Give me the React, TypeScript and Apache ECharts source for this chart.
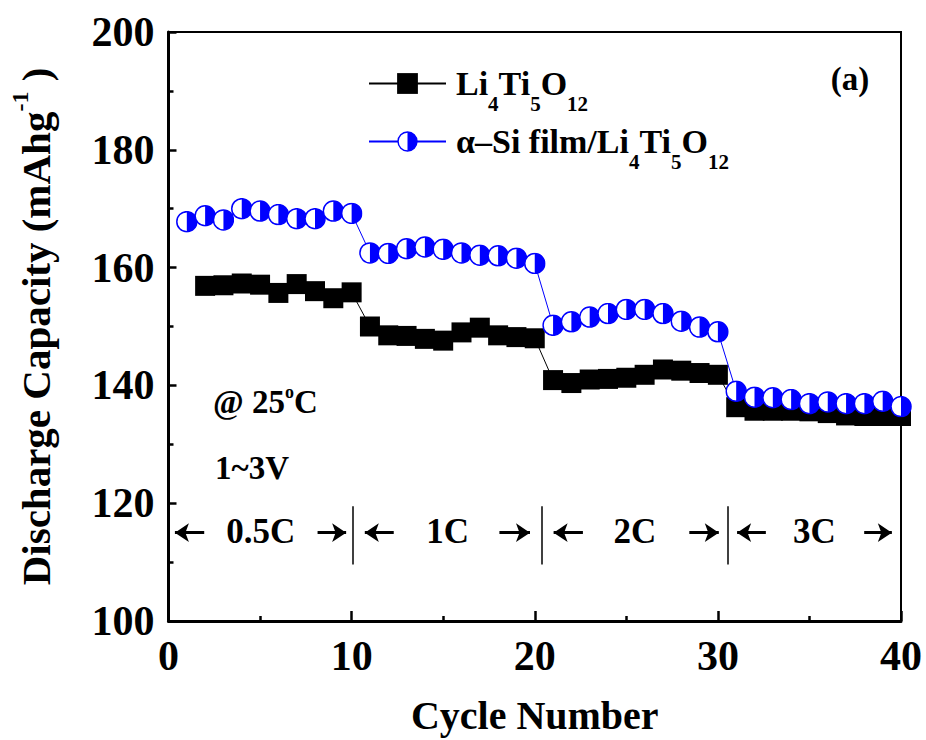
import React, { useEffect, useRef } from 'react';
import * as echarts from 'echarts';

// ---- data ----
const cyclesLTO = [2, 3, 4, 5, 6, 7, 8, 9, 10, 11, 12, 13, 14, 15, 16, 17, 18, 19, 20, 21, 22, 23, 24, 25, 26, 27, 28, 29, 30, 31, 32, 33, 34, 35, 36, 37, 38, 39, 40];
const capacityLTO = [156.9, 157.0, 157.3, 157.1, 155.7, 157.2, 156.0, 154.8, 155.8,
  150.0, 148.5, 148.4, 147.9, 147.6, 149.0, 149.8, 148.5, 148.2, 148.0,
  140.9, 140.4, 141.0, 141.1, 141.3, 141.8, 142.7, 142.5, 142.1, 141.8,
  136.3, 135.7, 135.7, 135.7, 135.6, 135.3, 134.9, 134.8, 134.8, 134.8];
const cyclesSi = [1, 2, 3, 4, 5, 6, 7, 8, 9, 10, 11, 12, 13, 14, 15, 16, 17, 18, 19, 20, 21, 22, 23, 24, 25, 26, 27, 28, 29, 30, 31, 32, 33, 34, 35, 36, 37, 38, 39, 40];
const capacitySi = [167.8, 168.8, 168.1, 170.0, 169.6, 169.0, 168.3, 168.3, 169.6, 169.2,
  162.5, 162.4, 163.2, 163.5, 163.1, 162.5, 162.1, 162.0, 161.6, 160.7,
  150.2, 150.8, 151.6, 152.2, 152.9, 152.9, 152.2, 150.9, 149.9, 149.1,
  139.0, 138.0, 137.9, 137.6, 136.9, 137.2, 136.9, 136.9, 137.3, 136.4];
const seriesNames = ['Li4Ti5O12', 'α–Si film/Li4Ti5O12'];
const rateLabels = ['0.5C', '1C', '2C', '3C'];
const rateDividers = [10.08, 20.4, 30.54];
const dividerSpan = [109.6, 119.5];
const arrowLevel = 115;
const arrowPairs = [[1.95, 0.35], [8.14, 9.7], [12.3, 10.72], [18.07, 19.74], [22.63, 21.03], [28.44, 30.05], [32.62, 31.05], [37.99, 39.5]];
const xRange = [0, 40];
const yRange = [100, 200];

const FONT = '"Liberation Serif", "Times New Roman", serif';

const halfCircleSvg =
  "<svg xmlns='http://www.w3.org/2000/svg' width='44' height='44' viewBox='0 0 44 44'>" +
  "<circle cx='22' cy='22' r='20' fill='white' stroke='#0000ff' stroke-width='3'/>" +
  "<path d='M22 2 A20 20 0 0 1 22 42 Z' fill='#0000ff'/></svg>";
const halfCircleSymbol = 'image://data:image/svg+xml;charset=utf-8,' + encodeURIComponent(halfCircleSvg);

const tok = (size: number, lh: number, extra: any = {}) => ({
  fontFamily: FONT, fontWeight: 'bold', fontSize: size, lineHeight: lh, color: '#000', ...extra,
});

export default function App() {
  const ref = useRef<HTMLDivElement>(null);
  useEffect(() => {
    document.body.style.margin = '0';
    const chart = echarts.init(ref.current!, null, { renderer: 'svg' });
    const option: any = {
      animation: false,
      grid: { left: 165, right: 25, top: 32, bottom: 112, show: true, borderColor: '#000', borderWidth: 2, backgroundColor: 'transparent' },
      legend: {
        data: seriesNames,
        orient: 'vertical',
        left: 363,
        top: 48,
        itemWidth: 77,
        itemHeight: 26,
        itemGap: -3,
        selectedMode: false,
        formatter: (name: string) =>
          name === seriesNames[0]
            ? '{f|Li}{s|4}{m|Ti}{s|5}{m|O}{s|12}'
            : '{f|α–Si film/Li}{s|4}{m|Ti}{s|5}{m|O}{s|12}',
        textStyle: {
          ...tok(34, 34),
          rich: {
            f: tok(34, 34, { padding: [0, 0, 0, 5] }),
            m: tok(34, 34),
            s: tok(21, 22, { padding: [40, 0, 0, 0] }),
          },
        },
      },
      xAxis: {
        type: 'value', min: xRange[0], max: xRange[1], interval: 10,
        name: 'Cycle Number', nameLocation: 'middle', nameGap: 74,
        nameTextStyle: tok(40, 40),
        axisLine: { show: true, lineStyle: { color: '#000', width: 3 } },
        axisTick: { show: true, inside: true, length: 10, lineStyle: { color: '#000', width: 2.5 } },
        minorTick: { show: true, splitNumber: 2, length: 5, lineStyle: { color: '#000', width: 2.5 } },
        axisLabel: { ...tok(42, 42), margin: 14 },
        splitLine: { show: false },
      },
      yAxis: {
        type: 'value', min: yRange[0], max: yRange[1], interval: 20,
        name: '{m|Discharge Capacity (mAhg}{sup|-1}{m| )}', nameLocation: 'middle', nameGap: 112,
        nameTextStyle: {
          ...tok(41, 41),
          rich: {
            m: tok(41, 41),
            sup: tok(24, 24, { padding: [0, 0, 32, 0] }),
          },
        },
        axisLine: { show: true, lineStyle: { color: '#000', width: 3 } },
        axisTick: { show: true, inside: true, length: 8, lineStyle: { color: '#000', width: 2.5 } },
        minorTick: { show: true, splitNumber: 2, length: 5, lineStyle: { color: '#000', width: 2.5 } },
        axisLabel: { ...tok(42, 42), margin: 14 },
        splitLine: { show: false },
      },
      series: [
        {
          name: seriesNames[0],
          type: 'line',
          data: cyclesLTO.map((c, i) => [c, capacityLTO[i]]),
          symbol: 'rect',
          symbolSize: 20,
          itemStyle: { color: '#000' },
          lineStyle: { color: '#000', width: 1 },
          z: 2,
          markLine: {
            silent: true,
            symbol: ['none', 'arrow'],
            symbolSize: 14,
            label: { show: false },
            lineStyle: { color: '#000', width: 3, type: 'solid' },
            data: arrowPairs.map(([a, b]) => [{ coord: [a, arrowLevel] }, { coord: [b, arrowLevel] }]),
          },
        },
        {
          name: seriesNames[1],
          type: 'line',
          data: cyclesSi.map((c, i) => [c, capacitySi[i]]),
          symbol: halfCircleSymbol,
          symbolSize: 22,
          itemStyle: { color: '#0000ff' },
          lineStyle: { color: '#0000ff', width: 1 },
          z: 3,
          markLine: {
            silent: true,
            symbol: ['none', 'none'],
            label: { show: false },
            lineStyle: { color: '#000', width: 1.5, type: 'solid' },
            data: rateDividers.map((d) => [{ coord: [d, dividerSpan[0]] }, { coord: [d, dividerSpan[1]] }]),
          },
        },
      ],
    };
    chart.setOption(option);

    const bounds = [xRange[0], ...rateDividers, xRange[1]];
    const rateTexts = rateLabels.map((label, i) => {
      const mid = (bounds[i] + bounds[i + 1]) / 2;
      const p = chart.convertToPixel({ gridIndex: 0 }, [mid, arrowLevel]) as number[];
      return {
        type: 'text', x: p[0], y: p[1] - 1, z: 10,
        style: { text: label, fill: '#000', fontFamily: FONT, fontWeight: 'bold', fontSize: 35, align: 'center', verticalAlign: 'middle' },
      };
    });

    chart.setOption({
      graphic: [
        ...rateTexts,
        {
          type: 'text', x: 850, y: 79, z: 10,
          style: { text: '(a)', fill: '#000', fontFamily: FONT, fontWeight: 'bold', fontSize: 33, align: 'center', verticalAlign: 'middle' },
        },
        {
          type: 'text', x: 213, y: 401.5, z: 10,
          style: {
            text: '{m|@ 25}{sup|o}{m|C}', fill: '#000', fontFamily: FONT, fontWeight: 'bold', fontSize: 33,
            align: 'left', verticalAlign: 'middle',
            rich: {
              m: { fontFamily: FONT, fontWeight: 'bold', fontSize: 33, lineHeight: 33, fill: '#000' },
              sup: { fontFamily: FONT, fontWeight: 'bold', fontSize: 18, lineHeight: 18, fill: '#000', padding: [0, 0, 20, 0] },
            },
          },
        },
        {
          type: 'text', x: 215, y: 467.5, z: 10,
          style: { text: '1~3V', fill: '#000', fontFamily: FONT, fontWeight: 'bold', fontSize: 33, align: 'left', verticalAlign: 'middle' },
        },
      ],
    });

    return () => chart.dispose();
  }, []);
  return <div ref={ref} style={{ width: 926, height: 740 }} />;
}
